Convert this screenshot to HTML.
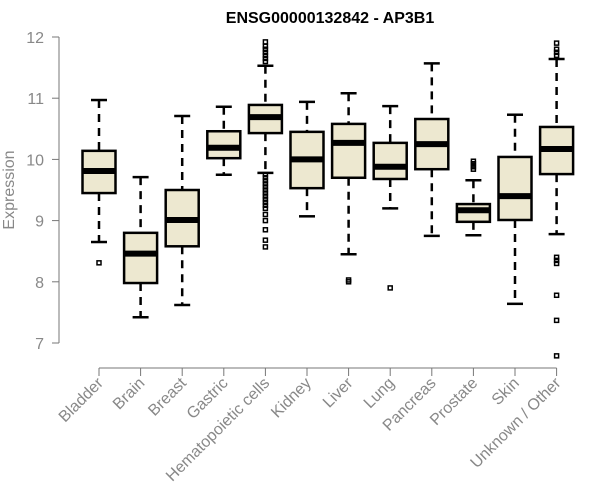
<!DOCTYPE html>
<html><head><meta charset="utf-8"><style>body{margin:0;background:#fff}svg{display:block;font-family:"Liberation Sans",Arial,sans-serif}</style></head>
<body>
<svg id="chart" width="600" height="500">
<text x="330" y="23" text-anchor="middle" font-weight="bold" font-size="16">ENSG00000132842 - AP3B1</text>
<text transform="translate(14,190) rotate(-90)" text-anchor="middle" font-size="16" fill="#888">Expression</text>
<g id="axes"></g><g id="boxes"></g>
</svg>
<script>
const categories=["Bladder","Brain","Breast","Gastric","Hematopoietic cells","Kidney","Liver","Lung","Pancreas","Prostate","Skin","Unknown / Other"];
const whiskerLow=[8.65,7.42,7.62,9.75,9.78,9.07,8.45,9.2,8.75,8.76,7.64,8.78];
const q1=[9.45,7.98,8.58,10.02,10.43,9.53,9.70,9.68,9.84,8.98,9.01,9.76];
const medians=[9.81,8.46,9.01,10.19,10.69,10.0,10.27,9.88,10.25,9.17,9.40,10.17];
const q3=[10.14,8.80,9.50,10.46,10.89,10.45,10.58,10.27,10.66,9.27,10.04,10.53];
const whiskerHigh=[10.97,9.71,10.71,10.86,11.53,10.94,11.08,10.87,11.57,9.66,10.73,11.64];
const outliers=[[8.31],[],[],[],[11.92,11.85,11.8,11.75,11.7,11.65,11.6,9.75,9.7,9.65,9.6,9.55,9.5,9.45,9.4,9.35,9.3,9.25,9.2,9.1,9.0,8.85,8.68,8.57],[],[8.03,8.0],[7.9],[],[9.97,9.93,9.88,9.84],[],[11.9,11.8,11.75,11.7,8.4,8.35,8.3,7.78,7.37,6.79]];
const yTicks=[7,8,9,10,11,12];
const NS="http://www.w3.org/2000/svg";
const y=v=>343-(v-7)*61.2;
const x=i=>99+i*41.6;
function mk(p,t,a){const e=document.createElementNS(NS,t);for(const k in a)e.setAttribute(k,a[k]);p.appendChild(e);return e;}
const ax=document.getElementById('axes'),bx=document.getElementById('boxes');
const yl=mk(ax,'line',{x1:59,x2:59,y1:y(12),y2:y(7),stroke:'#777'});


yTicks.forEach(t=>{const l=mk(ax,'line',{x1:52,x2:59,y1:y(t),y2:y(t),stroke:'#777'});


const tx=mk(ax,'text',{x:44,y:y(t)+6,'text-anchor':'end','font-size':16,fill:'#888'});tx.textContent=t;

});
const xl=mk(ax,'line',{x1:x(0),x2:x(11),y1:368,y2:368,stroke:'#777'});


categories.forEach((c,i)=>{const l=mk(ax,'line',{x1:x(i),x2:x(i),y1:368,y2:376,stroke:'#777'});


const tx=mk(ax,'text',{transform:`translate(${x(i)+5},${384}) rotate(-45)`,'text-anchor':'end','font-size':16,fill:'#888'});tx.textContent=c;


const g=mk(bx,'g',{});


const cx=x(i),w=16.5;
mk(g,'line',{x1:cx,x2:cx,y1:y(whiskerHigh[i]),y2:y(q3[i]),stroke:'#000','stroke-width':2.5,'stroke-dasharray':'8,6'});
mk(g,'line',{x1:cx,x2:cx,y1:y(q1[i]),y2:y(whiskerLow[i]),stroke:'#000','stroke-width':2.5,'stroke-dasharray':'8,6'});
mk(g,'line',{x1:cx-8,x2:cx+8,y1:y(whiskerHigh[i]),y2:y(whiskerHigh[i]),stroke:'#000','stroke-width':2.5});
mk(g,'line',{x1:cx-8,x2:cx+8,y1:y(whiskerLow[i]),y2:y(whiskerLow[i]),stroke:'#000','stroke-width':2.5});
mk(g,'rect',{x:cx-w,y:y(q3[i]),width:2*w,height:y(q1[i])-y(q3[i]),fill:'#ede8d0',stroke:'#000','stroke-width':2.5});
mk(g,'line',{x1:cx-w,x2:cx+w,y1:y(medians[i]),y2:y(medians[i]),stroke:'#000','stroke-width':6});
outliers[i].forEach(o=>{const p=mk(g,'rect',{x:cx-2,y:y(o)-2,width:4,height:4,fill:'none',stroke:'#000','stroke-width':1.5});

});
});
</script>
</body></html>
